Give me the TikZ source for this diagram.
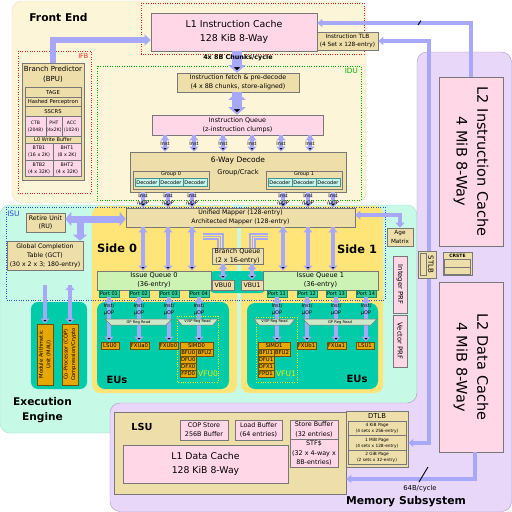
\documentclass[tikz,border=0pt]{standalone}
\usepackage{fontspec}
\setmainfont{DejaVu Sans}
\usepackage{graphicx,xcolor}
\usepackage{tikz}
\usetikzlibrary{arrows.meta}
\definecolor{frontbg}{RGB}{253,245,215}
\definecolor{frontln}{RGB}{235,222,185}
\definecolor{execbg}{RGB}{198,250,230}
\definecolor{execln}{RGB}{165,225,205}
\definecolor{membg}{RGB}{233,215,250}
\definecolor{memln}{RGB}{170,150,190}
\definecolor{sidec}{RGB}{255,228,120}
\definecolor{euc}{RGB}{0,204,170}
\definecolor{pinkc}{RGB}{255,215,230}
\definecolor{tanc}{RGB}{238,222,170}
\definecolor{boxline}{RGB}{120,120,120}
\definecolor{iqc}{RGB}{204,242,180}
\definecolor{portc}{RGB}{50,205,150}
\definecolor{portline}{RGB}{20,140,110}
\definecolor{decc}{RGB}{200,246,236}
\definecolor{decline}{RGB}{60,150,140}
\definecolor{unitc}{RGB}{230,168,0}
\definecolor{unitline}{RGB}{110,80,0}
\definecolor{busc}{RGB}{168,168,250}
\definecolor{regc}{RGB}{205,232,200}
\definecolor{vfuy}{RGB}{240,240,0}
\definecolor{isuc}{RGB}{40,80,200}
\definecolor{idug}{RGB}{0,170,0}
\definecolor{ifbr}{RGB}{240,30,30}
\newcommand{\fsz}[1]{\fontsize{#1}{\fpeval{1.42*#1}}\selectfont}

\begin{document}
\begin{tikzpicture}[x=1pt,y=-1pt,
    fs/.style={font=\fsz{#1},align=center},
    bf/.style={font=\fsz{#1}\bfseries,align=center},
    box/.style={draw=boxline,line width=0.6pt,inner sep=0pt,align=center},
    tanbox/.style={box,fill=tanc},
    pinkbox/.style={box,fill=pinkc},
    unit/.style={box,fill=unitc,draw=unitline,fs=5.3,minimum height=7},
    port/.style={box,fill=portc,draw=portline,fs=5,minimum width=20,minimum height=6.5},
    decbox/.style={box,fill=decc,draw=decline,fs=5,minimum width=24,minimum height=8.5},
    lbl/.style={fs=5,inner sep=0pt},
    frame/.style={line width=0.8pt,dash pattern=on 0.8pt off 1.6pt},
    bus/.style={draw=busc,line width=4pt,>={Triangle[width=9pt,length=5pt]},->},
    busl/.style={draw=busc,line width=3.5pt,>={Triangle[width=8pt,length=5pt]},->},
    busm/.style={draw=busc,line width=5.5pt,>={Triangle[width=11pt,length=6pt]},->},
    busk/.style={draw=busc,line width=7pt,>={Triangle[width=14pt,length=6pt]},->},
    busw/.style={draw=busc,line width=9.5pt,>={Triangle[width=17pt,length=7.5pt]},->},
    bqline/.style={draw=busc,line width=1.3pt},
    regread/.style={fill=regc,draw=boxline,line width=0.5pt}]
\useasboundingbox (0,0) rectangle (512,512);

\filldraw[fill=execbg,draw=execln,rounded corners=10] (0,205) rectangle (417,433);
\filldraw[fill=frontbg,draw=frontln,rounded corners=10] (12,1) rectangle (366,202.5);
\filldraw[fill=membg,draw=memln,rounded corners=10] (417,52) -- (511.5,52) -- (511.5,511.5) -- (110,511.5) -- (110,403) -- (417,403) -- cycle;

\fill[sidec,rounded corners=8] (92,206) rectangle (237,393);
\fill[sidec,rounded corners=8] (241,206) rectangle (383,393);
\fill[euc,rounded corners=8] (97,302) rectangle (229,389);
\fill[euc,rounded corners=8] (247,303) rectangle (378,389);
\fill[euc,rounded corners=7] (31,302) rectangle (87,389);
\fill[euc,rounded corners=6] (209,271) rectangle (266,293);

\draw[frame,draw=ifbr] (141,3) rectangle (364,54);
\draw[frame,draw=ifbr] (18,51) rectangle (91,193);
\draw[frame,draw=idug] (97,66) rectangle (361,200);
\draw[frame,draw=isuc] (6,207) rectangle (385,300);
\draw[frame,draw=vfuy] (177,316) rectangle (218,382);
\draw[frame,draw=vfuy] (256,317) rectangle (297,382);

\node[bf=10.7] (fe) at (58.5,17.5) {Front End};
\node[bf=10.6] (ee) at (42.5,410) {Execution\\Engine};
\node[bf=10.8] (ms) at (406,502) {Memory Subsystem};
\node[bf=11.4] (s0) at (117,248) {Side 0};
\node[bf=11.4] (s1) at (357,249) {Side 1};
\node[bf=10] (eus0) at (117,380) {EUs};
\node[bf=10] (eus1) at (357,379) {EUs};
\node[fs=6.4,text=ifbr,anchor=north east,inner sep=1pt] (ifb) at (89.5,52.5) {IFB};
\node[fs=7.2,text=idug,anchor=north east,inner sep=1pt] (idu) at (359,67.5) {IDU};
\node[fs=7.5,text=isuc] (isu) at (13.5,214) {ISU};

\node[pinkbox,fs=9.4,minimum width=166,minimum height=38] (l1i) at (234,32) {L1 Instruction Cache\\128 KiB 8-Way};
\node[tanbox,fs=5.8,minimum width=61,minimum height=18] (itlb) at (347.5,41) {Instruction TLB\\(4 Set x 128-entry)};

\node[tanbox,minimum width=62,minimum height=117] (bpu) at (53,121.5) {};
\node[fs=7] (bputxt) at (53,74.5) {Branch Predictor\\(BPU)};
\node[tanbox,fs=5.3,minimum width=56,minimum height=9.5] (tage) at (53,92.5) {TAGE};
\node[tanbox,fs=5.3,minimum width=56,minimum height=9.5] (hp) at (53,102) {Hashed Perceptron};
\node[tanbox,fs=5.3,minimum width=56,minimum height=9.5] (sscrs) at (53,111.5) {SSCRS};
\node[pinkbox,fs=4.6,minimum width=21,minimum height=20.5] (ctb) at (35.5,126.5) {CTB\\(2048)};
\node[pinkbox,fs=4.6,minimum width=16,minimum height=20.5] (pht) at (54,126.5) {PHT\\(4x2K)};
\node[pinkbox,fs=4.6,minimum width=19,minimum height=20.5] (acc) at (71.5,126.5) {ACC\\(1024)};
\node[tanbox,fs=5,minimum width=56,minimum height=6.3] (l0wb) at (53,139.9) {L0 Write Buffer};
\node[pinkbox,fs=4.8,minimum width=28,minimum height=17] (btb1) at (39,151.5) {BTB1\\(16 x 2K)};
\node[pinkbox,fs=4.8,minimum width=28,minimum height=17] (bht1) at (67,151.5) {BHT1\\(8 x 2K)};
\node[pinkbox,fs=4.8,minimum width=28,minimum height=16.5] (btb2) at (39,168.25) {BTB2\\(4 x 32K)};
\node[pinkbox,fs=4.8,minimum width=28,minimum height=16.5] (bht2) at (67,168.25) {BHT2\\(4 x 32K)};

\node[tanbox,fs=6.3,minimum width=122,minimum height=19] (fetch) at (238,82.5) {Instruction fetch \& pre-decode\\(4 x 8B chunks, store-aligned)};
\node[pinkbox,fs=6.4,minimum width=171,minimum height=20] (iq) at (237.5,125) {Instruction Queue\\(z-instruction clumps)};
\node[tanbox,minimum width=216,minimum height=40] (dec) at (238,172) {};
\node[fs=7.5] (dectitle) at (238,160) {6-Way Decode};
\node[fs=6.6] (crack) at (238,172.5) {Group/Crack};
\node[tanbox,minimum width=76,minimum height=18] (grp0) at (171,180) {};
\node[tanbox,minimum width=76,minimum height=18] (grp1) at (304,180) {};
\node[fs=5] (g0txt) at (171,174.3) {Group 0};
\node[fs=5] (g1txt) at (304,174.3) {Group 1};
\foreach \i/\x in {0/147,1/171,2/195,3/280,4/304,5/328}
  \node[decbox] (d\i) at (\x,182.5) {Decoder};

\node[tanbox,fs=6.3,minimum width=39,minimum height=19] (ru) at (45.5,222.5) {Retire Unit\\(RU)};
\node[tanbox,fs=6.2,minimum width=76,minimum height=29] (gct) at (45,255.5) {Global Completion\\Table (GCT)\\(30 x 2 x 3; 180-entry)};
\node[tanbox,fs=6.2,minimum width=229,minimum height=19] (map) at (240.5,217.5) {Unified Mapper (128-entry)\\Architected Mapper (128-entry)};
\node[box,fill=iqc,fs=6.6,minimum width=114,minimum height=19] (iq0) at (154,280.5) {Issue Queue 0\\(36-entry)};
\node[box,fill=iqc,fs=6.6,minimum width=115,minimum height=19] (iq1) at (320.5,280.5) {Issue Queue 1\\(36-entry)};
\node[tanbox,fs=6.4,minimum width=51,minimum height=16] (bq) at (237.5,256) {Branch Queue\\(2 x 16-entry)};
\node[tanbox,fs=6.2,minimum width=22,minimum height=10] (vbu0) at (223,285) {VBU0};
\node[tanbox,fs=6.2,minimum width=22,minimum height=10] (vbu1) at (252,285) {VBU1};
\foreach \n/\x in {01/109,02/139,03/169,04/199,11/277,12/307,13/336,14/366}
  \node[port] (p\n) at (\x,293.8) {Port \n};

\node[unit,minimum width=18] (lsu0) at (110,345.5) {LSU0};
\node[unit,minimum width=19] (fxua0) at (139.5,345.5) {FXUa0};
\node[unit,minimum width=19] (fxub0) at (168.5,345.5) {FXUb0};
\node[unit,minimum width=33] (simd0) at (196.5,345.5) {SIMD0};
\node[unit,minimum width=16.5] (bfu0) at (188.25,352.5) {BFU0};
\node[unit,minimum width=16.5] (bfu20) at (204.75,352.5) {BFU2};
\node[unit,minimum width=16.5] (dfu0) at (188.25,359.5) {DFU0};
\node[unit,minimum width=16.5] (dfx0) at (188.25,366.5) {DFX0};
\node[unit,minimum width=16.5] (fpd0) at (188.25,373.5) {FPD0};
\node[fs=7.6,text=vfuy] (vfu0) at (208,373.5) {VFU0};
\node[unit,minimum width=32] (simd1) at (274,345.5) {SIMD1};
\node[unit,minimum width=16] (bfu1) at (266,352.5) {BFU1};
\node[unit,minimum width=16] (bfu21) at (282,352.5) {BFU2};
\node[unit,minimum width=16] (dfu1) at (266,359.5) {DFU1};
\node[unit,minimum width=16] (dfx1) at (266,366.5) {DFX1};
\node[unit,minimum width=16] (fpd1) at (266,373.5) {FPD1};
\node[fs=7.6,text=vfuy] (vfu1) at (286,373.5) {VFU1};
\node[unit,minimum width=19] (fxub1) at (306.5,345.5) {FXUb1};
\node[unit,minimum width=19] (fxua1) at (336.5,345.5) {FXUa1};
\node[unit,minimum width=18] (lsu1) at (365,345.5) {LSU1};

\node[unit,fs=5.2,rotate=90,minimum width=61,minimum height=16] (mau) at (45,354.5) {Module Arithmetic\\Unit (MAU)};
\node[unit,fs=5.2,rotate=90,minimum width=61,minimum height=16] (cop) at (70,354.5) {Co-Processor (COP)\\Compression/Crypto};

\node[pinkbox,fs=6.8,rotate=-90,minimum width=57,minimum height=14] (iprf) at (400,284.5) {Integer PRF};
\node[pinkbox,fs=6.8,rotate=-90,minimum width=52,minimum height=14] (vprf) at (400,341) {Vector PRF};
\node[tanbox,fs=5.7,minimum width=26,minimum height=18] (age) at (400,237) {Age\\Matrix};

\node[pinkbox,fs=14.5,rotate=-90,minimum width=169,minimum height=64] (l2i) at (471,161.5) {L2 Instruction Cache\\4 MiB 8-Way};
\node[pinkbox,fs=14.5,rotate=-90,minimum width=170,minimum height=64] (l2d) at (471,367) {L2 Data Cache\\4 MiB 8-Way};

\node[tanbox,minimum width=232,minimum height=82] (lsu) at (230,453) {};
\node[tanbox,minimum width=62,minimum height=56] (dtlb) at (377,439) {};
\node[bf=9.7] (lsutxt) at (142,427) {LSU};
\node[fs=6.8] (dtlbtxt) at (377,416) {DTLB};
\node[tanbox,fs=4.3,minimum width=58,minimum height=14.5] (pg4k) at (377,428.5) {4 KiB Page\\(4 sets x 256-entry)};
\node[tanbox,fs=4.3,minimum width=58,minimum height=14.5] (pg1m) at (377,443) {1 MiB Page\\(4 sets x 128-entry)};
\node[tanbox,fs=4.3,minimum width=58,minimum height=14.5] (pg2g) at (377,457.5) {2 GiB Page\\(2 sets x 32-entry)};
\node[pinkbox,fs=6.4,minimum width=48,minimum height=20] (copst) at (204,430) {COP Store\\256B Buffer};
\node[pinkbox,fs=6.4,minimum width=47,minimum height=20] (ldbuf) at (258.5,430) {Load Buffer\\(64 entries)};
\node[pinkbox,fs=6.4,minimum width=48,minimum height=19] (stbuf) at (314,429.5) {Store Buffer\\(32 entries)};
\node[pinkbox,fs=6.4,minimum width=48,minimum height=28] (stf) at (314,453) {STF\$\\(32 x 4-way x\\8B-entries)};
\node[pinkbox,fs=9.3,minimum width=165,minimum height=38] (l1d) at (205.5,464) {L1 Data Cache\\128 KiB 8-Way};

\path[busw] (l1i.south -| 237,0) edge (fetch.north -| 237,0);
\path[busw] (fetch.south -| 237,0) edge (iq.north -| 237,0);
\draw[busm] (bpu.north) |- (l1i.west |- 0,40);
\foreach \x in {165,194,223,252,281,310}
  \path[bus] (iq.south -| \x,0) edge node[lbl] {Inst} (dec.north -| \x,0);
\foreach \x in {143,168,192,283,308,333}
  \path[bus] (dec.south -| \x,0) edge node[lbl] {Inst\\/μOP} (map.north -| \x,0);
\node[bf=6.4] (chunks) at (238,58) {4x 8B Chunks/cycle};

\coordinate (rubr) at (80,219);
\draw[busk,<->] (ru.east |- rubr) -- (map.west |- rubr);
\draw[busk] (rubr) -- (gct.north -| rubr);
\foreach \x in {143,168,192}
  \path[bus] (map.south -| \x,0) edge (iq0.north -| \x,0);
\foreach \x in {283,308,333}
  \path[bus] (map.south -| \x,0) edge (iq1.north -| \x,0);
\coordinate (bqL) at (203,234);
\coordinate (bqR) at (268,234);
\foreach \d/\x in {0/223,2.5/220.5,5/218}
  \draw[bqline] ([yshift=-\d]bqL) -| (bq.north -| \x,0);
\foreach \d/\x in {0/250,2.5/252.5,5/255}
  \draw[bqline] ([yshift=-\d]bqR) -| (bq.north -| \x,0);
\path[bus] (bq.south -| vbu0.north) edge (vbu0.north);
\path[bus] (bq.south -| vbu1.north) edge (vbu1.north);
\draw[bus,<->] (age.north) |- (map.east |- 0,215);
\foreach \p/\u in {p01/lsu0,p02/fxua0,p03/fxub0,p04/simd0,p11/simd1,p12/fxub1,p13/fxua1,p14/lsu1}
  \path[bus] (\p.south) edge node[lbl,pos=.27] {Inst/\\μOP} (\p.south |- \u.north);
\coordinate (mautop) at (45,285);
\coordinate (coptop) at (70,285);
\path[bus] (mautop) edge (mau.east) (coptop) edge (cop.east);

\draw[busl] (l2i.west) |- (l1i.east |- 0,23);
\coordinate (tlbc) at (429,443);
\draw[busl,<->] (itlb.east) -| (tlbc) -- (dtlb.east |- tlbc);
\coordinate (l2dc) at (475,479);
\draw[busl] (l2d.east -| l2dc) -- (l2dc) -- (lsu.east |- l2dc);
\draw[line width=0.9pt] (418,25) -- (421,20.5);
\draw[line width=0.9pt] (419,482) -- (428,467);
\node[fs=6.8] (bw) at (420,489) {64B/cycle};

\filldraw[regread] (105,319) -- (172,319) -- (166,325) -- (111,325) -- cycle;
\node[fs=3.7] (gpr0) at (138.5,322) {GP Reg Read};
\filldraw[regread] (177,319) -- (218,319) -- (213,325) -- (182,325) -- cycle;
\node[fs=3.6] (vsr0) at (197.5,322) {V/SP Reg Read};
\filldraw[regread] (254,319) -- (295,319) -- (290,325) -- (259,325) -- cycle;
\node[fs=3.6] (vsr1) at (274.5,322) {V/SP Reg Read};
\filldraw[regread] (303,319) -- (377,319) -- (371,325) -- (309,325) -- cycle;
\node[fs=3.7] (gpr1) at (340,322) {GP Reg Read};

\node[tanbox,minimum width=18,minimum height=27] (stlb) at (427,264.5) {};
\node[tanbox,minimum width=6,minimum height=22] (stlbin) at (423,264.5) {};
\node[fs=7,rotate=-90] (stlbtxt) at (431,264.5) {STLB};
\node[tanbox,minimum width=29,minimum height=23] (crste) at (457.5,263.5) {};
\node[bf=4.5] (crstetxt) at (457.5,256) {CRSTE};
\node[tanbox,minimum width=26,minimum height=8] (crste1) at (457.5,263) {};
\node[tanbox,minimum width=26,minimum height=7] (crste2) at (457.5,270.5) {};
\end{tikzpicture}
\end{document}
